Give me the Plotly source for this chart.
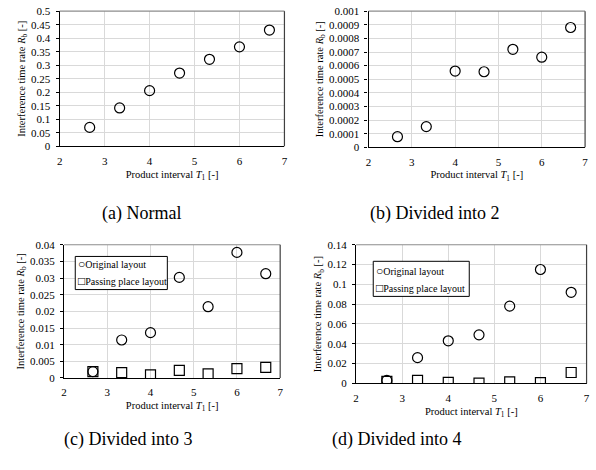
import plotly.graph_objects as go

# ---- data ----
T1 = [2.667, 3.333, 4.0, 4.667, 5.333, 6.0, 6.667]
rb_normal = [0.070, 0.142, 0.206, 0.271, 0.322, 0.368, 0.430]
rb_div2 = [0.000078, 0.000152, 0.00056, 0.000555, 0.00072, 0.000662, 0.00088]
rb_div3_original = [0.0019, 0.0114, 0.0136, 0.0302, 0.0214, 0.0377, 0.0313]
rb_div3_passing = [0.0019, 0.0016, 0.0009, 0.0023, 0.0012, 0.0028, 0.0032]
rb_div4_original = [0.003, 0.026, 0.043, 0.049, 0.078, 0.115, 0.092]
rb_div4_passing = [0.002, 0.003, 0.001, 0.0003, 0.0015, 0.0008, 0.011]

captions = ["(a) Normal", "(b) Divided into 2", "(c) Divided into 3", "(d) Divided into 4"]
series_names = ["Original layout", "Passing place layout"]
legend_symbols = ["\u25cb", "\u25a1"]
x_range = [2, 7.001]
x_ticks = [2, 3, 4, 5, 6, 7]
y_ranges = [[0, 0.5], [0, 0.001], [0, 0.04], [0, 0.14]]
y_dticks = [0.05, 0.0001, 0.005, 0.02]

FONT = "Liberation Serif"
W, H = 596, 470

# plot-area boxes in pixels (left, right, top, bottom)
px_boxes = [
    (57.3, 284.3, 5.3, 144.0),
    (369.3, 588.0, 5.3, 145.0),
    (61.7, 280.0, 245.0, 381.7),
    (356.7, 589.5, 245.0, 387.3),
]

fig = go.Figure()


def mk(symbol, size):
    return dict(symbol=symbol, size=size, color="black",
                line=dict(width=1.2, color="black"))


circle = mk("circle-open", 10)
square = mk("square-open", 10)

fig.add_trace(go.Scatter(x=T1, y=rb_normal, mode="markers", marker=circle,
                         name=series_names[0], showlegend=False, xaxis="x", yaxis="y"))
fig.add_trace(go.Scatter(x=T1, y=rb_div2, mode="markers", marker=circle,
                         name=series_names[0], showlegend=False, xaxis="x2", yaxis="y2"))
fig.add_trace(go.Scatter(x=T1, y=rb_div3_original, mode="markers", marker=circle,
                         name=series_names[0], showlegend=False, xaxis="x3", yaxis="y3"))
fig.add_trace(go.Scatter(x=T1, y=rb_div3_passing, mode="markers", marker=square,
                         name=series_names[1], showlegend=False, xaxis="x3", yaxis="y3"))
fig.add_trace(go.Scatter(x=T1, y=rb_div4_original, mode="markers", marker=circle,
                         name=series_names[0], showlegend=False, xaxis="x4", yaxis="y4"))
fig.add_trace(go.Scatter(x=T1, y=rb_div4_passing, mode="markers", marker=square,
                         name=series_names[1], showlegend=False, xaxis="x4", yaxis="y4"))

layout = {}
shapes = []
annotations = []
for i, (x0, x1, yt, yb) in enumerate(px_boxes):
    sfx = "" if i == 0 else str(i + 1)
    xd = [x0 / W, x1 / W]
    yd = [1 - yb / H, 1 - yt / H]
    layout["xaxis" + sfx] = dict(
        domain=xd, anchor="y" + sfx, range=x_range, tickvals=x_ticks,
        ticktext=[str(t) for t in x_ticks],
        showgrid=True, gridcolor="#d9d9d9", gridwidth=1,
        showline=True, linecolor="black", linewidth=1.3,
        ticks="", zeroline=False, ticklabeloverflow="allow", ticklabelstandoff=4,
        tickfont=dict(family=FONT, size=11, color="black"),
        title=dict(text="Product interval <i>T</i><sub>1</sub> [-]",
                   font=dict(family=FONT, size=10.5, color="black"), standoff=4),
    )
    layout["yaxis" + sfx] = dict(
        domain=yd, anchor="x" + sfx, range=y_ranges[i], dtick=y_dticks[i], tick0=0,
        showgrid=True, gridcolor="#d9d9d9", gridwidth=1,
        showline=True, linecolor="black", linewidth=1.3,
        ticks="outside", ticklen=3, tickcolor="black", zeroline=False,
        exponentformat="none", ticklabelstandoff=3,
        tickfont=dict(family=FONT, size=11, color="black"),
        title=dict(text="Interference time rate <i>R</i><sub>b</sub> [-]",
                   font=dict(family=FONT, size=10.5, color="black"), standoff=3),
    )
    xr = "x" + sfx + " domain"
    yr = "y" + sfx + " domain"
    shapes.append(dict(type="line", xref=xr, yref=yr, x0=0, x1=1, y0=1, y1=1,
                       line=dict(color="#8c8c8c", width=1.2)))
    shapes.append(dict(type="line", xref=xr, yref=yr, x0=1, x1=1, y0=0, y1=1,
                       line=dict(color="#404040", width=1.2)))

# captions
caption_pos = [(140, 213), (436, 213), (126, 445), (398, 445)]
for cap, (cx, cy) in zip(captions, caption_pos):
    annotations.append(dict(text=cap, x=cx / W, y=1 - cy / H, xref="paper", yref="paper",
                            showarrow=False, xanchor="center", yanchor="middle",
                            font=dict(family=FONT, size=18, color="black")))

# legend boxes for (c) and (d): (left, right, top, bottom, row1_y, row2_y)
legend_boxes = [(73, 166, 257, 291, 265, 282), (374, 471, 262, 298, 272, 289)]
for (lx0, lx1, ly0, ly1, r1, r2) in legend_boxes:
    shapes.append(dict(type="rect", xref="paper", yref="paper",
                       x0=lx0 / W, x1=lx1 / W, y0=1 - ly1 / H, y1=1 - ly0 / H,
                       fillcolor="white", line=dict(color="black", width=1), layer="above"))
    for sym, nm, ry in zip(legend_symbols, series_names, (r1, r2)):
        annotations.append(dict(
            text="<span style='font-size:12px'>" + sym + "</span>" + nm,
            x=(lx0 + 1) / W, y=1 - ry / H, xref="paper", yref="paper",
            showarrow=False, xanchor="left", yanchor="middle",
            font=dict(family=FONT, size=10, color="black")))

fig.update_layout(
    width=W, height=H,
    margin=dict(l=0, r=0, t=0, b=0),
    paper_bgcolor="white", plot_bgcolor="white",
    showlegend=False,
    shapes=shapes, annotations=annotations,
    **layout,
)

fig.write_html("out.html",
               config={"displayModeBar": False},
               post_script="document.body.style.margin='0';"
                           "document.body.style.overflow='hidden';")
